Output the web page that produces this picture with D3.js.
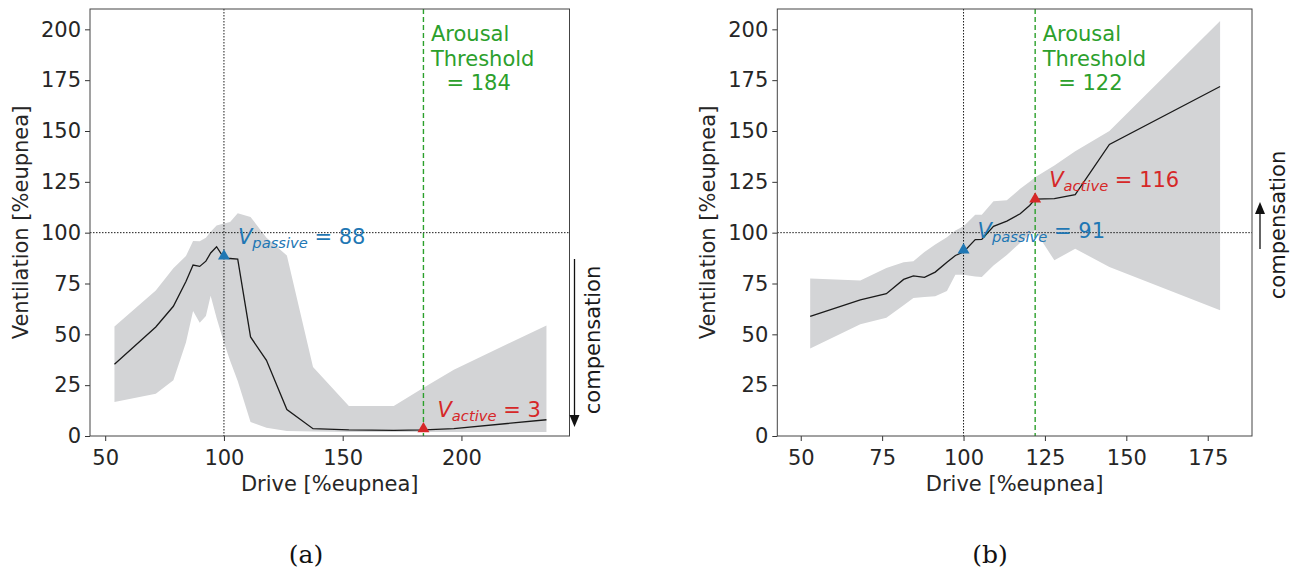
<!DOCTYPE html>
<html>
<head>
<meta charset="utf-8">
<script src="https://cdn.jsdelivr.net/npm/d3@7"></script>
<style>
  body { margin: 0; background: #fff; }
  text { font-family: "DejaVu Sans", sans-serif; }
  text.caption { font-family: "DejaVu Serif", "Liberation Serif", serif; }
</style>
</head>
<body>
<div id="chart-area"></div>
<script>
// panel (a)
var driveA = [53.9, 71.3, 78.7, 84.0, 87.0, 89.8, 92.4, 94.4, 96.9, 100.0, 102.6, 105.8, 111.2, 117.9, 126.5, 137.5, 152.6, 171.5, 184.2, 196.8, 235.8];
var ventA  = [35.3, 53.6, 63.8, 76.0, 84.1, 83.4, 86.0, 90.0, 93.1, 87.5, 87.3, 87.0, 48.7, 37.2, 13.0, 3.6, 3.0, 2.8, 3.0, 3.6, 8.0];
var highA  = [53.9, 71.6, 82.5, 88.5, 95.9, 95.8, 97.5, 100.5, 103.5, 104.5, 105.2, 109.5, 107.7, 97.5, 88.8, 33.9, 14.8, 14.8, 23.8, 32.6, 54.4];
var lowA   = [16.7, 20.8, 27.4, 46.0, 61.5, 55.7, 59.0, 69.0, 58.0, 46.0, 37.0, 27.0, 6.9, 4.0, 2.5, 2.2, 2.0, 2.0, 2.0, 2.0, 2.0];
var passiveA = [100, 88];
var activeA = [184, 3];
var thresholdA = 184;

// panel (b)
var driveB = [52.9, 68.3, 76.3, 81.6, 84.6, 88.0, 91.3, 94.9, 97.5, 100.0, 103.6, 105.6, 109.2, 113.3, 117.4, 120.3, 122.0, 127.9, 134.3, 144.8, 178.8];
var ventB  = [58.8, 67.0, 70.0, 77.0, 78.7, 78.0, 80.6, 85.5, 88.8, 90.5, 96.6, 96.7, 103.1, 105.7, 109.3, 113.4, 116.5, 116.7, 118.7, 143.4, 171.9];
var highB  = [77.4, 76.5, 82.6, 85.5, 86.0, 90.5, 94.2, 97.8, 101.1, 103.1, 108.8, 108.8, 115.4, 115.9, 121.6, 125.0, 127.3, 133.0, 140.0, 150.0, 204.1];
var lowB   = [43.0, 54.9, 58.2, 64.3, 67.9, 68.3, 68.7, 71.3, 79.3, 79.3, 78.5, 78.2, 83.9, 89.0, 95.0, 99.0, 101.0, 86.4, 92.1, 83.1, 61.8];
var passiveB = [100, 91];
var activeB = [122, 116];
var thresholdB = 122;

var yTicks = [0, 25, 50, 75, 100, 125, 150, 175, 200];
var xTicksA = [50, 100, 150, 200];
var xTicksB = [50, 75, 100, 125, 150, 175];

var width = 1296;
var height = 575;
var fontSize = 21;

var svg = d3.select("#chart-area").append("svg")
            .attr("width", width)
            .attr("height", height);

function drawPanel(p) {
  var w = p.width, h = p.height;
  var g = svg.append("g")
             .attr("transform", "translate(" + p.left + ", " + p.top + ")");

  var x = d3.scaleLinear().domain(p.xDomain).range([0, w]);
  var y = d3.scaleLinear().domain([0, 210]).range([h, 0]);

  var rows = p.drive.map(function(d, i) {
    return { drive: d, vent: p.vent[i], low: p.low[i], high: p.high[i] };
  });

  // std band
  var area = d3.area()
               .x(function(d) { return x(d.drive); })
               .y0(function(d) { return y(d.low); })
               .y1(function(d) { return y(d.high); });
  g.append("path").datum(rows)
    .attr("d", area)
    .attr("fill", "#d3d4d6");

  // reference lines
  g.append("line")
    .attr("x1", x(100)).attr("x2", x(100)).attr("y1", 0).attr("y2", h)
    .attr("stroke", "#000").attr("stroke-width", 0.9).attr("stroke-dasharray", "1.5,1.5");
  g.append("line")
    .attr("x1", 0).attr("x2", w).attr("y1", y(100)).attr("y2", y(100))
    .attr("stroke", "#000").attr("stroke-width", 0.9).attr("stroke-dasharray", "1.5,1.5");
  g.append("line")
    .attr("x1", x(p.threshold)).attr("x2", x(p.threshold)).attr("y1", 0).attr("y2", h)
    .attr("stroke", "#2ca02c").attr("stroke-width", 1.4).attr("stroke-dasharray", "5,3");

  // mean
  var line = d3.line()
               .x(function(d) { return x(d.drive); })
               .y(function(d) { return y(d.vent); });
  g.append("path").datum(rows)
    .attr("d", line)
    .attr("fill", "none")
    .attr("stroke", "#1a1a1a")
    .attr("stroke-width", 1.3);

  // markers
  var tri = d3.symbol().type(d3.symbolTriangle).size(62);
  [[p.passive, "#1f77b4"], [p.active, "#d62728"]].forEach(function(m) {
    g.append("path")
      .attr("d", tri)
      .attr("transform", "translate(" + x(m[0][0]) + ", " + (y(m[0][1]) - 1) + ")")
      .attr("fill", m[1]);
  });

  // V labels
  function vLabel(pt, sub, color) {
    var t = g.append("text")
             .attr("x", x(pt[0]) + 14)
             .attr("y", y(pt[1]) - 13)
             .attr("font-size", fontSize)
             .attr("fill", color);
    t.append("tspan").attr("font-style", "italic").text("V");
    t.append("tspan").attr("font-style", "italic").attr("font-size", fontSize * 0.7)
      .attr("dy", 4).text(sub);
    t.append("tspan").attr("dy", -4).text(" = " + pt[1]);
  }
  vLabel(p.passive, "passive", "#1f77b4");
  vLabel(p.active, "active", "#d62728");

  // threshold label
  var thr = ["Arousal", "Threshold", "= " + p.threshold];
  thr.forEach(function(s, i) {
    g.append("text")
      .attr("x", x(p.threshold) + (i == 2 ? 23 : 7.5))
      .attr("y", 32 + i * 24.5)
      .attr("font-size", fontSize)
      .attr("fill", "#2ca02c")
      .text(s);
  });

  // axes
  var leftAxis = d3.axisLeft(y).tickValues(yTicks).tickSize(5).tickPadding(4);
  var bottomAxis = d3.axisBottom(x).tickValues(p.xTicks).tickSize(5).tickPadding(5);

  var ya = g.append("g").call(leftAxis);
  var xa = g.append("g").attr("transform", "translate(0, " + h + ")").call(bottomAxis);
  [ya, xa].forEach(function(a) {
    a.select(".domain").remove();
    a.selectAll("line").attr("stroke", "#333").attr("stroke-width", 1);
    a.selectAll("text")
      .attr("font-size", fontSize)
      .attr("font-family", "DejaVu Sans")
      .attr("fill", "#262626");
  });
  xa.selectAll("text").attr("dy", "0.9em");

  g.append("rect")
    .attr("width", w).attr("height", h)
    .attr("fill", "none")
    .attr("stroke", "#444")
    .attr("stroke-width", 1);

  g.append("text")
    .attr("x", w / 2)
    .attr("y", h + 55)
    .attr("font-size", fontSize)
    .attr("text-anchor", "middle")
    .attr("fill", "#262626")
    .text("Drive [%eupnea]");

  g.append("text")
    .attr("x", -h / 2)
    .attr("y", -62)
    .attr("font-size", fontSize)
    .attr("text-anchor", "middle")
    .attr("transform", "rotate(-90)")
    .attr("fill", "#262626")
    .text("Ventilation [%eupnea]");

  // compensation arrow
  var ax = w + p.arrowDx;
  var dir = p.arrowTo > p.arrowFrom ? -1 : 1;
  g.append("line")
    .attr("x1", ax).attr("x2", ax)
    .attr("y1", p.arrowFrom).attr("y2", p.arrowTo + dir * 8)
    .attr("stroke", "#111").attr("stroke-width", 1.3);
  g.append("path")
    .attr("d", "M" + (ax - 5) + "," + (p.arrowTo + dir * 12) +
               " L" + (ax + 5) + "," + (p.arrowTo + dir * 12) +
               " L" + ax + "," + p.arrowTo + " Z")
    .attr("fill", "#111");

  g.append("text")
    .attr("x", -p.compY)
    .attr("y", w + p.compDx)
    .attr("font-size", fontSize)
    .attr("text-anchor", "middle")
    .attr("transform", "rotate(-90)")
    .attr("fill", "#1a1a1a")
    .text("compensation");

  svg.append("text")
    .attr("class", "caption")
    .attr("x", p.captionX)
    .attr("y", 563)
    .attr("font-size", 25)
    .attr("text-anchor", "middle")
    .attr("fill", "#111")
    .text(p.caption);
}

drawPanel({
  left: 90, top: 9, width: 479.5, height: 427,
  xDomain: [43.6, 245.5], xTicks: xTicksA,
  drive: driveA, vent: ventA, low: lowA, high: highA,
  passive: passiveA, active: activeA, threshold: thresholdA,
  arrowDx: 5, arrowFrom: 250, arrowTo: 418,
  compY: 331, compDx: 30,
  caption: "(a)", captionX: 306
});

drawPanel({
  left: 777.3, top: 9, width: 474.7, height: 427,
  xDomain: [42.8, 188.6], xTicks: xTicksB,
  drive: driveB, vent: ventB, low: lowB, high: highB,
  passive: passiveB, active: activeB, threshold: thresholdB,
  arrowDx: 8, arrowFrom: 240, arrowTo: 193,
  compY: 216, compDx: 33,
  caption: "(b)", captionX: 990
});
</script>
</body>
</html>
